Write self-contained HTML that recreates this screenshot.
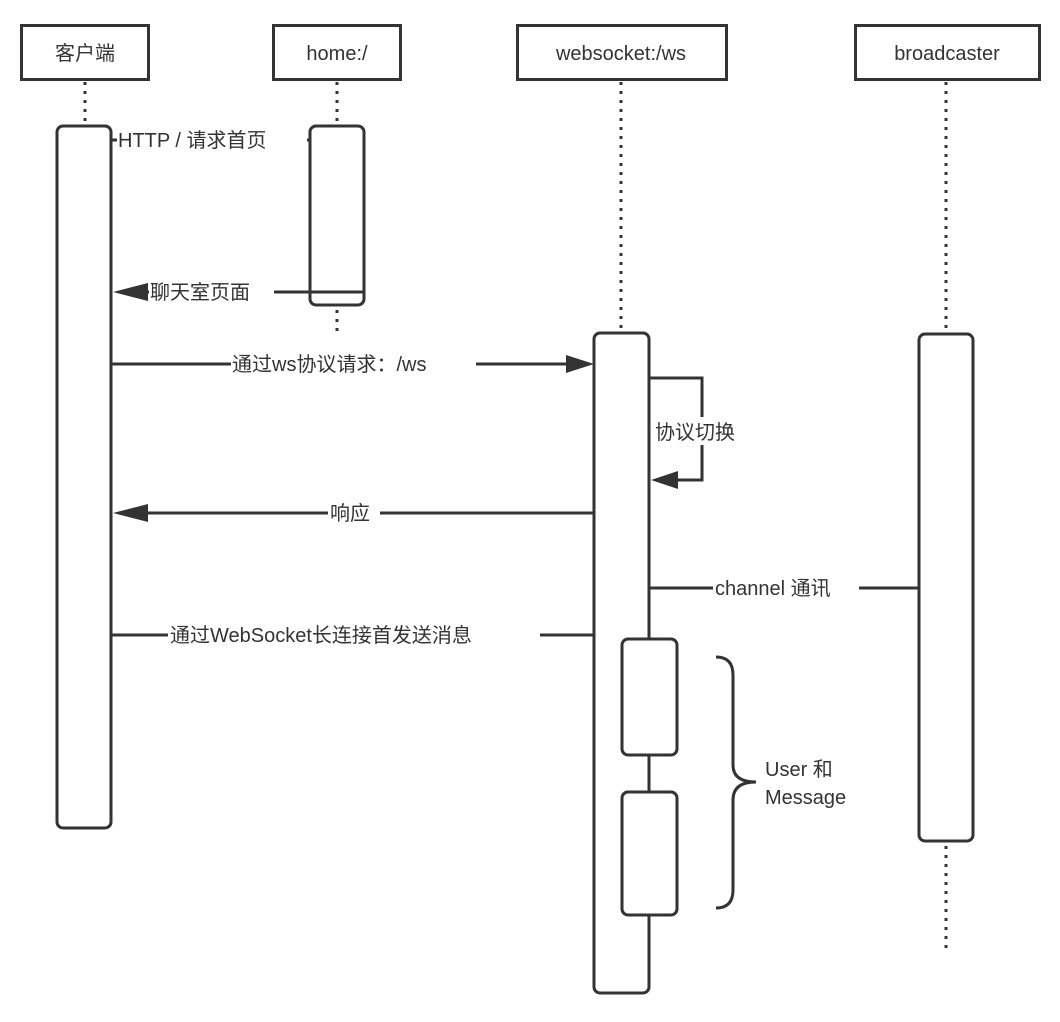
<!DOCTYPE html>
<html><head><meta charset="utf-8"><style>
html,body{margin:0;padding:0;background:#fff;}
svg{display:block;}
text{font-family:"Liberation Sans","Noto Sans CJK SC",sans-serif;fill:#333;font-size:20px;}
</style></head><body>
<svg width="1060" height="1022" viewBox="0 0 1060 1022" xmlns="http://www.w3.org/2000/svg">
<defs>
<marker id="ah" markerWidth="12" markerHeight="10" refX="11" refY="5" orient="auto" markerUnits="userSpaceOnUse">
<path d="M0,0 L34,5 L0,10 z" fill="#333"/>
</marker>
</defs>
<g stroke="#333" stroke-width="3" fill="#fff">
<!-- headers -->
<rect x="21.5" y="25.5" width="127" height="54"/>
<rect x="273.5" y="25.5" width="127" height="54"/>
<rect x="517.5" y="25.5" width="209" height="54"/>
<rect x="855.5" y="25.5" width="184" height="54"/>
</g>
<g stroke="#333" stroke-width="3" stroke-dasharray="3,6" fill="none">
<line x1="85" y1="82" x2="85" y2="126"/>
<line x1="337" y1="82" x2="337" y2="126"/>
<line x1="337" y1="310" x2="337" y2="333"/>
<line x1="621" y1="82" x2="621" y2="333"/>
<line x1="946" y1="82" x2="946" y2="334"/>
<line x1="946" y1="846" x2="946" y2="948"/>
</g>
<g stroke="#333" stroke-width="3" fill="#fff">
<rect x="57" y="126" width="54" height="702" rx="6"/>
<rect x="310" y="126" width="54" height="179" rx="6"/>
<rect x="594" y="333" width="55" height="660" rx="6"/>
<rect x="919" y="334" width="54" height="507" rx="6"/>
<rect x="622" y="639" width="55" height="116" rx="6"/>
<rect x="622" y="792" width="55" height="123" rx="6"/>
</g>
<!-- messages -->
<g stroke="#333" stroke-width="3" fill="none">
<line x1="111" y1="140" x2="310" y2="140"/>
<line x1="364" y1="292" x2="148" y2="292"/>
<line x1="111" y1="364" x2="566" y2="364"/>
<polyline points="649,378 702,378 702,480 678,480"/>
<line x1="594" y1="513" x2="148" y2="513"/>
<line x1="649" y1="588" x2="919" y2="588"/>
<line x1="111" y1="635" x2="594" y2="635"/>
<path d="M716,657 Q733,657 733,675 L733,765 Q733,782 756,782 Q733,782 733,800 L733,890 Q733,908 716,908"/>
</g>
<g fill="#333">
<path d="M113,292 L148,283 L148,301 z"/>
<path d="M594,364 L566,355 L566,373 z"/>
<path d="M651,480 L678,471 L678,489 z"/>
<path d="M113,513 L148,504 L148,522 z"/>
</g>
<!-- label backgrounds -->
<g fill="#fff">
<rect x="117" y="125" width="190" height="28"/>
<rect x="149" y="278" width="125" height="28"/>
<rect x="231" y="350" width="245" height="28"/>
<rect x="653" y="417" width="98" height="28"/>
<rect x="328" y="499" width="52" height="28"/>
<rect x="713" y="574" width="146" height="28"/>
<rect x="168" y="621" width="372" height="28"/>
</g>
<g>
<text x="85" y="60" text-anchor="middle">客户端</text>
<text x="337" y="60" text-anchor="middle">home:/</text>
<text x="621" y="60" text-anchor="middle">websocket:/ws</text>
<text x="947" y="60" text-anchor="middle">broadcaster</text>
<text x="118" y="147">HTTP / 请求首页</text>
<text x="150" y="299">聊天室页面</text>
<text x="232" y="371">通过ws协议请求：/ws</text>
<text x="655" y="439">协议切换</text>
<text x="330" y="520">响应</text>
<text x="715" y="595">channel 通讯</text>
<text x="170" y="642">通过WebSocket长连接首发送消息</text>
<text x="765" y="776">User 和</text>
<text x="765" y="804">Message</text>
</g>
</svg>
</body></html>
